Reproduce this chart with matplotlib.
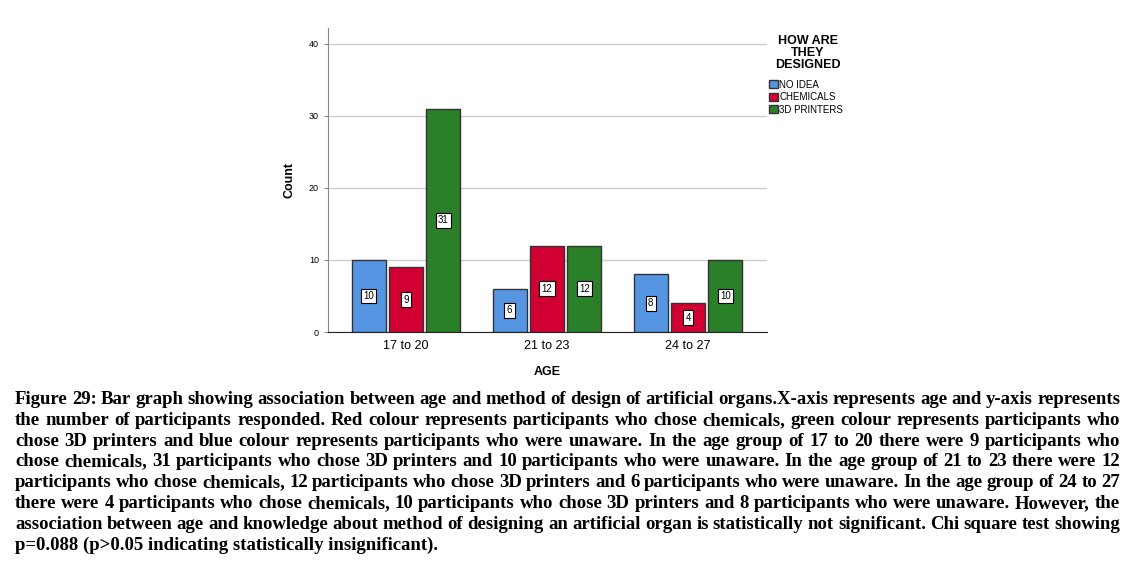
import numpy as np
import matplotlib
matplotlib.use("Agg")
import matplotlib.pyplot as plt

# data
age_groups = ["17 to 20", "21 to 23", "24 to 27"]
series_names = ["NO IDEA", "CHEMICALS", "3D PRINTERS"]
no_idea = [10, 6, 8]
chemicals = [9, 12, 4]
printers = [31, 12, 10]
colors = ["#5595E2", "#D20032", "#2A8028"]

caption_lines = [
    "Figure 29: Bar graph showing association between age and method of design of artificial organs.X-axis represents age and y-axis represents",
    "the number of participants responded. Red colour represents participants who chose chemicals, green colour represents participants who",
    "chose 3D printers and blue colour represents participants who were unaware. In the age group of 17 to 20 there were 9 participants who",
    "chose chemicals, 31 participants who chose 3D printers and 10 participants who were unaware. In the age group of 21 to 23 there were 12",
    "participants who chose chemicals, 12 participants who chose 3D printers and 6 participants who were unaware. In the age group of 24 to 27",
    "there were 4 participants who chose chemicals, 10 participants who chose 3D printers and 8 participants who were unaware. However, the",
    "association between age and knowledge about method of designing an artificial organ is statistically not significant. Chi square test showing",
    "p=0.088 (p>0.05 indicating statistically insignificant).",
]

plt.rcParams['font.family'] = ['Liberation Sans', 'DejaVu Sans']

W, H = 1147, 569
fig = plt.figure(figsize=(W/100, H/100), dpi=100)
ax = fig.add_axes([328/W, 1-332/H, (767-328)/W, (332-28)/H])

x = np.arange(len(age_groups))
width = 0.24
step = 0.265
all_series = [no_idea, chemicals, printers]
handles = []
for i, (vals, name, col) in enumerate(zip(all_series, series_names, colors)):
    pos = x + (i - 1) * step
    b = ax.bar(pos, vals, width, color=col, edgecolor="#333333", linewidth=1.0,
               label=name, zorder=3)
    handles.append(b)
    for px, v in zip(pos, vals):
        ax.text(px, v / 2, str(v), ha="center", va="center", fontsize=7,
                zorder=4,
                bbox=dict(boxstyle="square,pad=0.25", fc="white", ec="black", lw=0.8))

ax.set_xlim(-0.553, 2.56)
ax.set_ylim(0, 42.2)
ax.set_yticks([0, 10, 20, 30, 40])
ax.tick_params(axis="y", labelsize=6.5, length=3, color="#888888")
ax.tick_params(axis="x", labelsize=9, length=0, pad=6)
ax.set_xticks(x)
ax.set_xticklabels(age_groups)
ax.yaxis.grid(True, color="#cccccc", linewidth=1, zorder=0)
ax.spines["top"].set_visible(False)
ax.spines["right"].set_visible(False)
ax.spines["left"].set_color("#888888")
ax.spines["bottom"].set_color("#222222")
ax.set_ylabel("Count", fontsize=9, fontweight="bold", labelpad=10)
ax.set_xlabel("AGE", fontsize=9, fontweight="bold", labelpad=10)

# legend title drawn separately so it can sit centered above the keys
fig.text(808/W, 1-53/H, "HOW ARE\nTHEY\nDESIGNED", ha="center", va="center",
         fontsize=9, fontweight="bold", multialignment="center", linespacing=1.05)
ax.legend(handles=handles, loc="upper left", bbox_to_anchor=(760/W, 1-71/H),
          bbox_transform=fig.transFigure, frameon=False, fontsize=7,
          handlelength=0.9, handleheight=0.9, handletextpad=0.2, labelspacing=0.25)

# caption, justified word by word between x=15 and x=1120
renderer = fig.canvas.get_renderer()
left, right = 15, 1120
cap_font = dict(fontsize=13.5, fontweight="bold", family="Liberation Serif")
y0 = 404
for k, line in enumerate(caption_lines):
    ypos = 1 - (y0 + k * 20.8) / H
    words = line.split(" ")
    if k == len(caption_lines) - 1:
        fig.text(left/W, ypos, line, ha="left", va="baseline", **cap_font)
        continue
    arts = [fig.text(0, ypos, w, ha="left", va="baseline", **cap_font) for w in words]
    widths = [a.get_window_extent(renderer).width for a in arts]
    gap = (right - left - sum(widths)) / (len(words) - 1)
    cx = left
    for a, wd in zip(arts, widths):
        a.set_x(cx / W)
        cx += wd + gap

fig.savefig("out.png", dpi=100)
